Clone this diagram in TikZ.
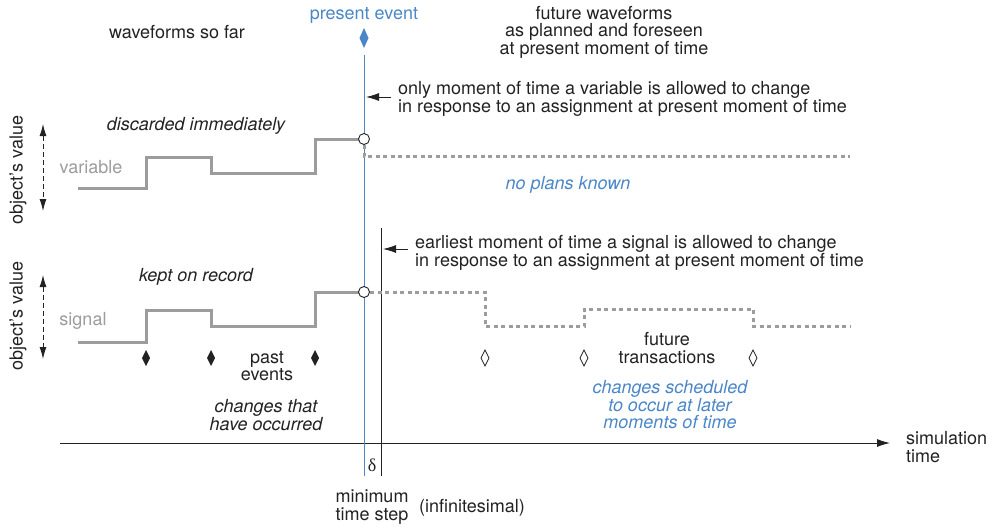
\documentclass[tikz,border=0pt]{standalone}
\usepackage{fontspec}
\setmainfont{TeX Gyre Heros}
\newfontfamily\greekserif{Liberation Serif}
\usetikzlibrary{arrows.meta}
\definecolor{ink}{HTML}{222222}
\definecolor{wave}{HTML}{9C9C9C}
\definecolor{evblue}{HTML}{4A86C8}
\tikzset{
  lbl/.style={inner sep=0pt, text=ink, font=\fontsize{18}{17.5}\selectfont, align=center},
  note/.style={lbl, align=left, anchor=west},
  ital/.style={lbl, font=\fontsize{18}{17.5}\selectfont\itshape},
  past/.style={wave, line width=3pt},
  plan/.style={wave, line width=3pt, dash pattern=on 4pt off 3.5pt},
  ptr/.style={ink, line width=0.9pt, -{Latex[length=13pt,width=8pt]}},
  valuespan/.style={ink, line width=0.9pt, dash pattern=on 5pt off 3pt, {Latex[length=12pt,width=7pt]}-{Latex[length=12pt,width=7pt]}},
  pastev/.style={fill=ink, draw=none},
  futev/.style={draw=ink, line width=0.8pt, fill=white},
  knot/.style={circle, draw=ink, line width=0.9pt, fill=white, minimum size=11pt, inner sep=0pt}
}
\newcommand{\evmark}[3]{% style, x, y
  \path[#1] (#2,#3-8) -- (#2+4,#3) -- (#2,#3+8) -- (#2-4,#3) -- cycle;}
\begin{document}
\begin{tikzpicture}[x=1pt,y=-1pt]
\useasboundingbox (0,0) rectangle (995,527);

% time axis and the two instants
\coordinate (axL) at (60,443);
\coordinate (axR) at (890,443);
\draw[ink, line width=0.9pt, -{Latex[length=13pt,width=8pt]}] (axL) -- (axR);
\coordinate (nowT) at (364,55);
\coordinate (nowB) at (364,476);
\draw[evblue, line width=0.9pt] (nowT) -- (nowB);
\coordinate (nextT) at (381,228);
\coordinate (nextB) at (381,476);
\draw[ink, line width=0.9pt] (nextT) -- (nextB);
\path[fill=evblue] (364,28) -- (368.5,38) -- (364,48) -- (359.5,38) -- cycle;

% headings
\node[lbl, text=evblue] (present) at (364,15) {present event};
\node[lbl] (sofar) at (177,32) {waveforms so far};
\node[lbl] (future) at (604,32) {future waveforms\\as planned and foreseen\\at present moment of time};

% pointers to the two instants
\node[note] (onlyv) at (398,99) {only moment of time a variable is allowed to change\\in response to an assignment at present moment of time};
\coordinate (onlyvP) at (366,97);
\draw[ptr] (391,97) -- (onlyvP);
\node[note] (earls) at (415,253) {earliest moment of time a signal is allowed to change\\in response to an assignment at present moment of time};
\coordinate (earlsP) at (383,249);
\draw[ptr] (408,249) -- (earlsP);

% value axes
\node[lbl, rotate=90] (valv) at (18,170) {object's value};
\node[lbl, rotate=90] (vals) at (18,316) {object's value};
\coordinate (rvT) at (43,124);
\coordinate (rvB) at (43,211);
\draw[valuespan] (rvT) -- (rvB);
\coordinate (rsT) at (43,275);
\coordinate (rsB) at (43,359);
\draw[valuespan] (rsT) -- (rsB);

% variable waveform
\node[lbl, text=wave] (var) at (91,167) {variable};
\node[ital] (disc) at (196,126) {discarded immediately};
\draw[past] (78,188) -- (146,188) -- (146,157) -- (211,157) -- (211,173) -- (315,173) -- (315,139) -- (359,139);
\draw[plan] (364,145) -- (364,156) -- (850,156);
\node[knot] (vnow) at (364,139) {};
\node[ital, text=evblue] (noplan) at (568,185) {no plans known};

% signal waveform
\node[lbl, text=wave] (sig) at (83,321) {signal};
\node[ital] (kept) at (196,277) {kept on record};
\draw[past] (78,342) -- (146,342) -- (146,310) -- (211,310) -- (211,326) -- (315,326) -- (315,292) -- (359,292);
\draw[plan] (370,292) -- (485,292) -- (485,326) -- (584,326) -- (584,309) -- (753,309) -- (753,326) -- (850,326);
\node[knot] (snow) at (364,292) {};

% events
\evmark{pastev}{146}{358}
\evmark{pastev}{211}{358}
\evmark{pastev}{315}{358}
\evmark{futev}{485}{358}
\evmark{futev}{584}{358}
\evmark{futev}{753}{358}
\node[lbl] (pastlbl) at (267,366) {past\\events};
\node[ital] (occ) at (266,415) {changes that\\have occurred};
\node[lbl] (futlbl) at (667,348) {future\\transactions};
\node[ital, text=evblue] (sched) at (670,405) {changes scheduled\\to occur at later\\moments of time};

% time labels
\node[note] (simt) at (906,447) {simulation\\time};
\node[lbl, font=\fontsize{18}{17.5}\greekserif] (delta) at (372,465) {δ};
\node[lbl] (minstep) at (372,507) {minimum\\time step};
\node[lbl] (infin) at (472,508) {(infinitesimal)};
\end{tikzpicture}
\end{document}
